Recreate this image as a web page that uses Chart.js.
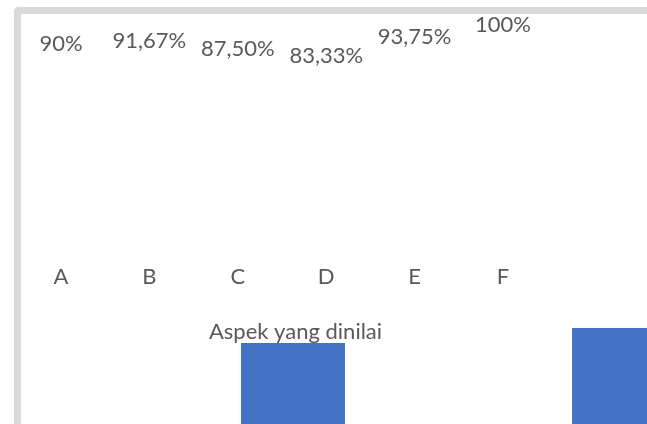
<!DOCTYPE html>
<html>
<head>
<meta charset="utf-8">
<script src="https://cdn.jsdelivr.net/npm/chart.js@4"></script>
<style>
  html, body { margin: 0; padding: 0; width: 647px; height: 424px; overflow: hidden; background: #fff; }
  #frame { position: absolute; left: 14px; top: 7px; width: 700px; height: 500px;
           border-left: 7px solid #d9d9d9; border-top: 7px solid #d9d9d9; border-top-left-radius: 5px; }
  #bars { position: absolute; left: 0; top: 0; }
  #main { position: absolute; left: 0; top: 0; }
</style>
</head>
<body>
<div id="frame"></div>
<canvas id="bars" width="2300" height="1200"></canvas>
<canvas id="main" width="647" height="424"></canvas>
<script>
var categories = ['A', 'B', 'C', 'D', 'E', 'F'];
var values = [90, 91.67, 87.5, 83.33, 93.75, 100];
var axisTitle = 'Aspek yang dinilai';

var textColor = '#595959';
var barColor = '#4472c4';
Chart.defaults.font.family = 'Lato, Calibri, sans-serif';
Chart.defaults.color = textColor;

function percentText(v) {
    if (Number.isInteger(v)) return v + '%';
    return v.toFixed(2).replace('.', ',') + '%';
}

// the bars, drawn big so only the tops of A and B show in the window
var bigChart = new Chart(document.getElementById('bars'), {
    type: 'bar',
    data: {
        labels: categories,
        datasets: [{
            data: values,
            backgroundColor: barColor,
            barPercentage: 0.314,
            categoryPercentage: 1
        }]
    },
    options: {
        responsive: false,
        animation: false,
        layout: { padding: { left: 127.5, top: 253, right: 186.5, bottom: 47 } },
        plugins: { legend: { display: false }, tooltip: { enabled: false } },
        scales: {
            x: { display: false },
            y: { display: false, min: 0, max: 100 }
        }
    }
});

var labelPlugin = {
    id: 'valueLabels',
    afterDatasetsDraw: function (chart) {
        var ctx = chart.ctx;
        var meta = chart.getDatasetMeta(0);
        ctx.save();
        ctx.font = '22px Lato';
        ctx.fillStyle = textColor;
        ctx.textAlign = 'center';
        ctx.textBaseline = 'middle';
        meta.data.forEach(function (pt, i) {
            ctx.fillText(percentText(values[i]), pt.x, pt.y - 49);
        });
        ctx.restore();
    }
};

var points = values.map(function (v, i) { return { x: i, y: v }; });

var myChart = new Chart(document.getElementById('main'), {
    type: 'line',
    data: {
        datasets: [{
            data: points,
            showLine: false,
            pointRadius: 0
        }]
    },
    options: {
        responsive: false,
        animation: false,
        layout: { padding: { left: 16.8, right: 72.8, top: 74, bottom: 75 } },
        plugins: { legend: { display: false }, tooltip: { enabled: false } },
        scales: {
            x: {
                type: 'linear',
                min: -0.5,
                max: 5.805,
                grid: { display: false, drawTicks: false },
                border: { display: false },
                ticks: {
                    stepSize: 1,
                    includeBounds: false,
                    autoSkip: false,
                    maxRotation: 0,
                    padding: 2,
                    font: { size: 22 },
                    callback: function (v) { return categories[v] !== undefined ? categories[v] : ''; }
                },
                title: {
                    display: true,
                    text: axisTitle,
                    font: { size: 22 },
                    padding: { top: 26, bottom: 4 }
                }
            },
            y: { display: false, min: 0, max: 100 }
        }
    },
    plugins: [labelPlugin]
});
</script>
</body>
</html>
